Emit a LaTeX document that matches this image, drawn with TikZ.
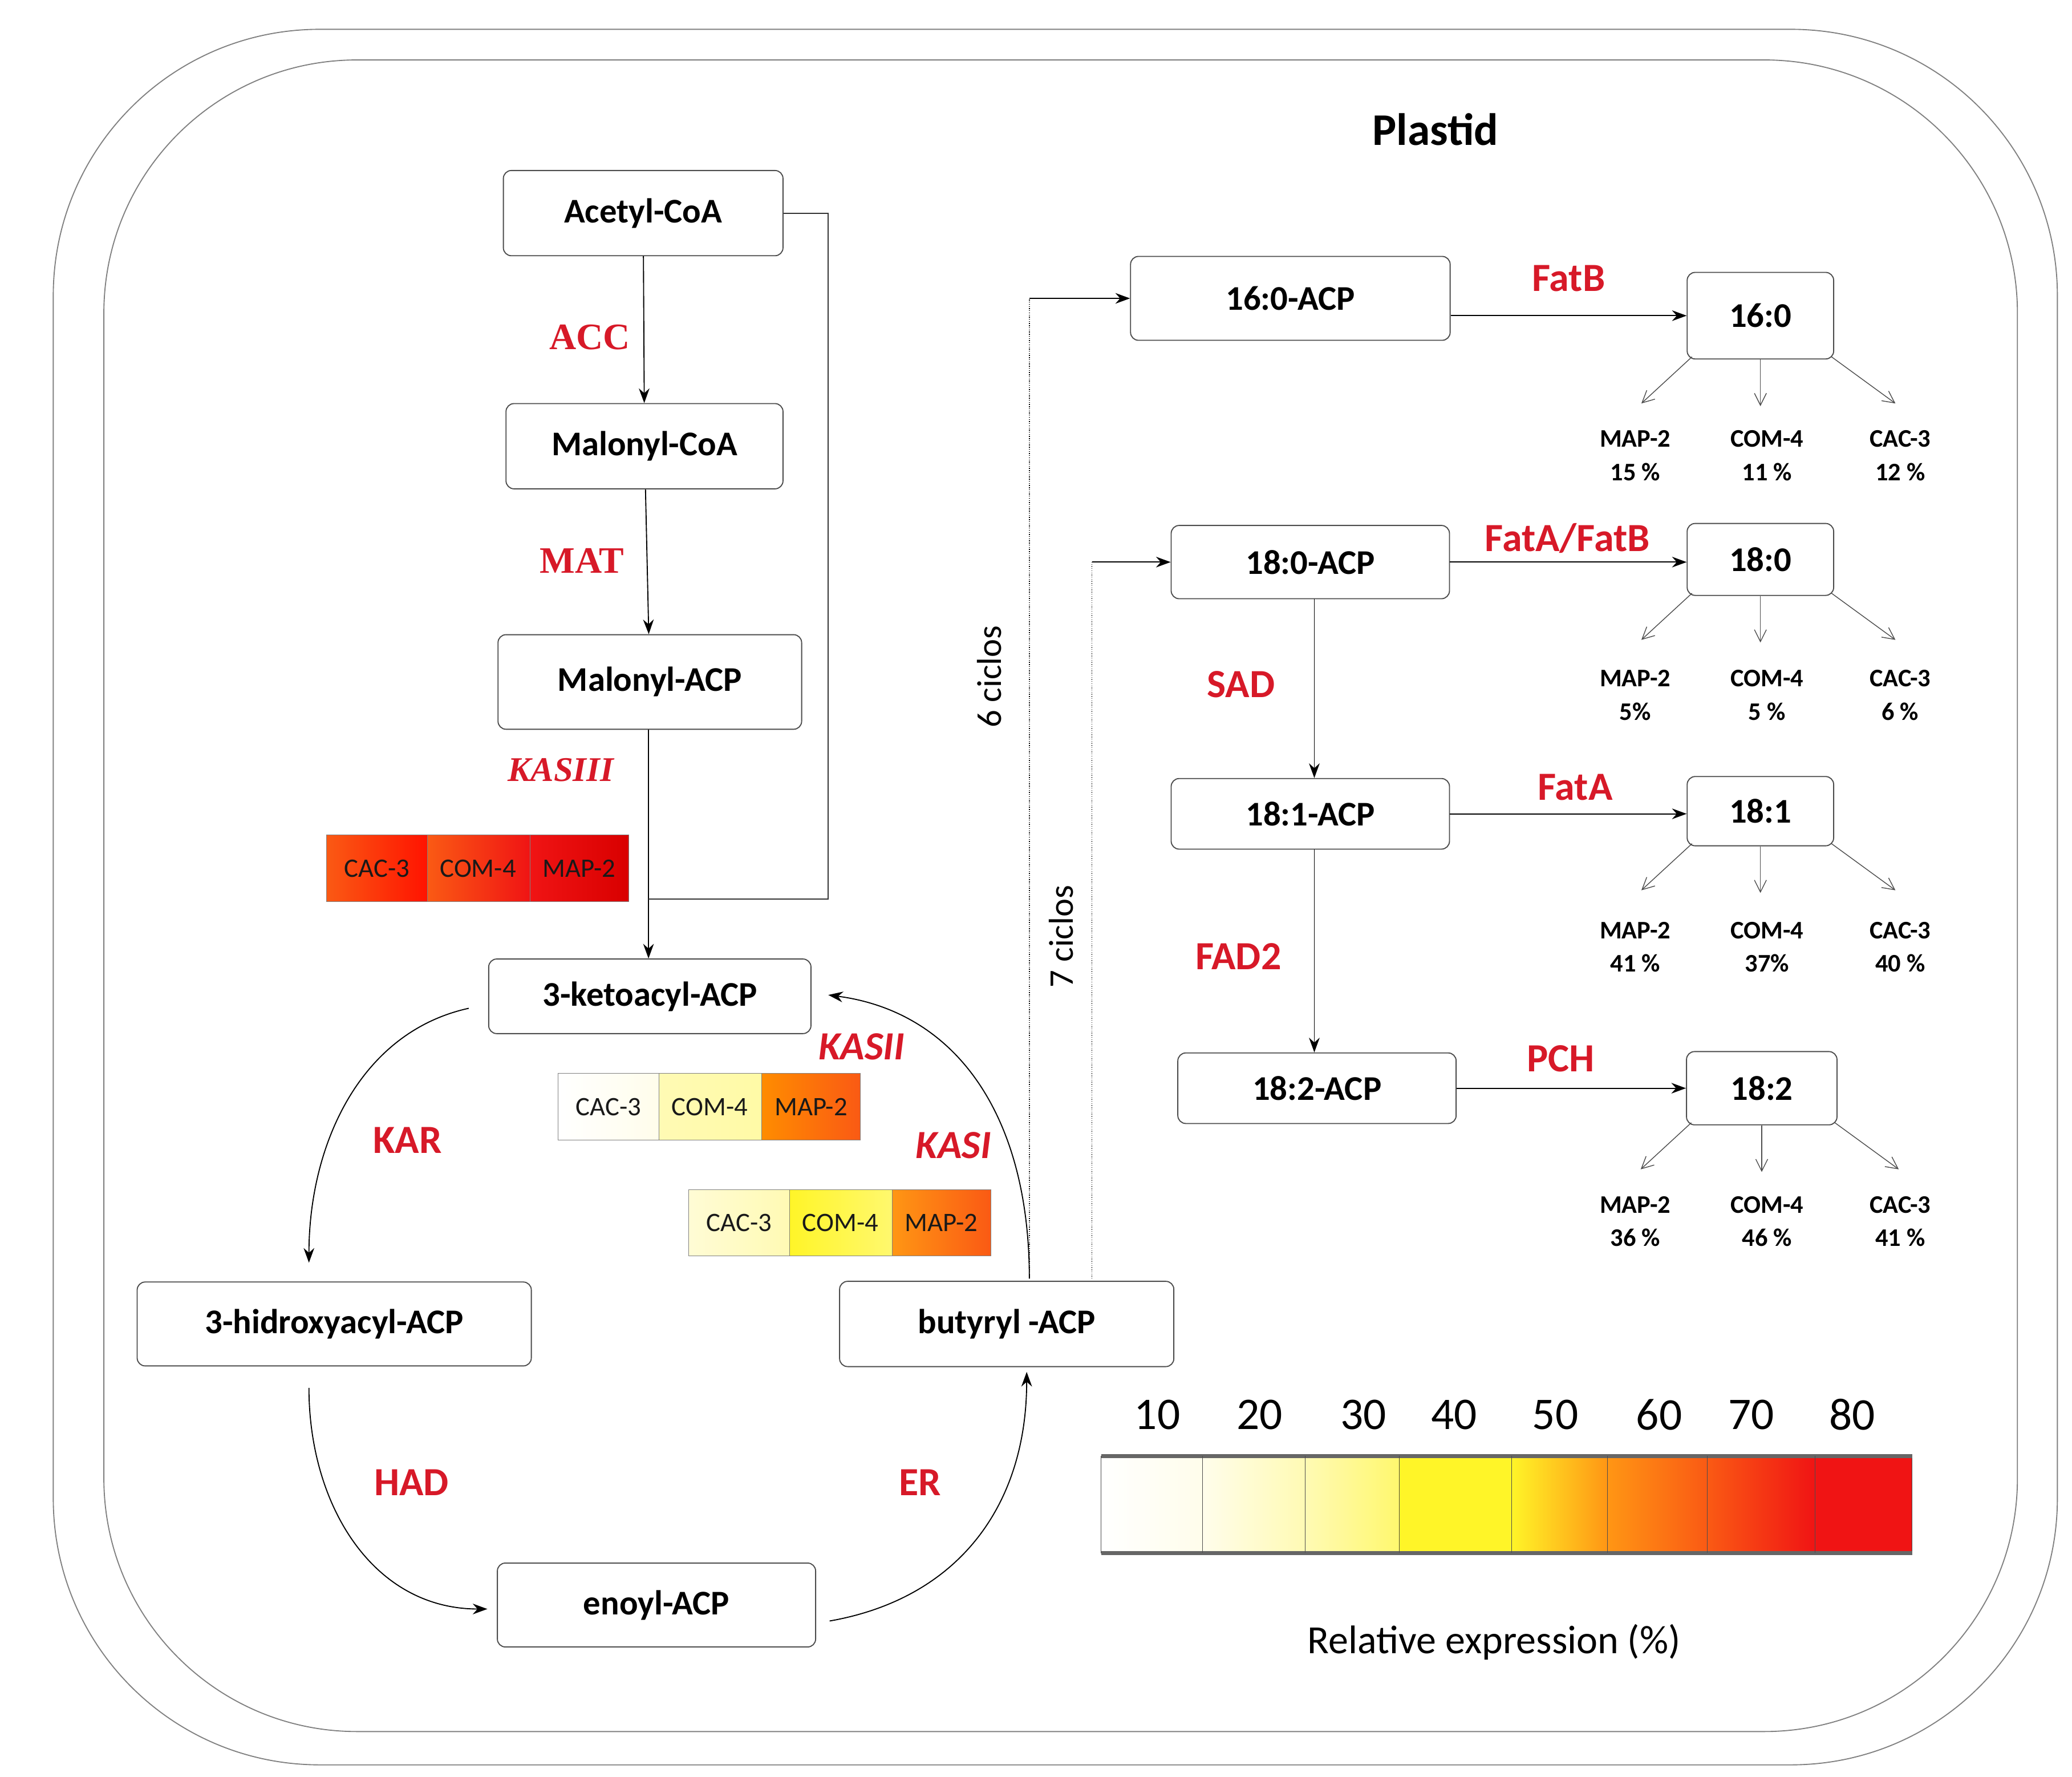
\documentclass[tikz,border=0pt]{standalone}
\usepackage{fontspec}
\setmainfont{Carlito}
\newfontfamily\serifred{Liberation Serif}
\usetikzlibrary{arrows.meta}
\definecolor{lbl}{RGB}{215,25,40}
\definecolor{cA}{RGB}{255,253,235}
\definecolor{cB}{RGB}{255,250,180}
\definecolor{cC}{RGB}{255,248,110}
\definecolor{cD}{RGB}{255,245,40}
\definecolor{cE}{RGB}{255,150,20}
\definecolor{cF}{RGB}{250,90,20}
\definecolor{cG}{RGB}{240,20,20}
\tikzset{
 box/.style={draw=black!70,rounded corners=6pt,thick,fill=white,font=\fontsize{26}{30}\selectfont\bfseries,inner sep=0pt},
 prod/.style={box,minimum width=110pt,minimum height=58pt},
 arr/.style={-{Stealth[length=11pt,width=8pt]},thick},
 thin/.style={-{Straight Barb[length=9pt,width=9pt]},semithick,black!70},
 enz/.style={text=lbl,font=\fontsize{30}{34}\selectfont\bfseries},
 enzs/.style={text=lbl,font=\fontsize{28}{32}\selectfont\serifred\bfseries},
 pct/.style={font=\fontsize{19}{23}\selectfont\bfseries,align=center,text=black},
 cell/.style={font=\fontsize{20}{24}\selectfont,text=black!90},
 dots/.style={densely dotted,semithick},
}
\begin{document}
\begin{tikzpicture}[x=1pt,y=-1pt]
\useasboundingbox (0,0) rectangle (1556,1334);
\draw[black!50,thick,rounded corners=200pt] (40,22) rectangle (1545,1325);
\draw[black!50,thick,rounded corners=190pt] (78,45) rectangle (1515,1300);
\node[font=\fontsize{34}{40}\selectfont\bfseries] (title) at (1078,97) {Plastid};
% boxes
\node[box,minimum width=210pt,minimum height=64pt] (acoa) at (483,160) {Acetyl-CoA};
\node[box,minimum width=208pt,minimum height=64pt] (mcoa) at (484,335) {Malonyl-CoA};
\node[box,minimum width=228pt,minimum height=71pt] (macp) at (488,512) {Malonyl-ACP};
\node[box,minimum width=242pt,minimum height=56pt] (keto) at (488,748) {3-ketoacyl-ACP};
\node[box,minimum width=296pt,minimum height=63pt] (hidr) at (251,994) {3-hidroxyacyl-ACP};
\node[box,minimum width=239pt,minimum height=63pt] (enoy) at (493,1205) {enoyl-ACP};
\node[box,minimum width=251pt,minimum height=64pt] (buty) at (756,994) {butyryl -ACP};
\node[box,minimum width=240pt,minimum height=63pt] (a160) at (969,224) {16:0-ACP};
\node[box,minimum width=209pt,minimum height=55pt] (a180) at (984,422) {18:0-ACP};
\node[box,minimum width=209pt,minimum height=53pt] (a181) at (984,611) {18:1-ACP};
\node[box,minimum width=209pt,minimum height=53pt] (a182) at (989,817) {18:2-ACP};
\node[prod,minimum height=65pt] (p160) at (1322,237) {16:0};
\node[prod,minimum height=54pt] (p180) at (1322,420) {18:0};
\node[prod,minimum height=52pt] (p181) at (1322,609) {18:1};
\node[prod,minimum width=113pt,minimum height=55pt] (p182) at (1323,817) {18:2};
% upper chain
\draw[arr] (acoa) -- (mcoa);
\node[enzs] (acc) at (443,253) {ACC};
\draw[arr] (mcoa) -- (macp);
\node[enzs] (mat) at (437,421) {MAT};
\draw[arr] (macp.south) ++(-1,0) coordinate (ms) -- (ms |- keto.north);
\node[enzs,font=\fontsize{26}{30}\selectfont\serifred\bfseries\itshape] (kas3) at (421,578) {KASIII};
\coordinate (j1) at (622,675);
\draw[thick,black!80] (acoa.east) -- (622,160) -- (j1) -- (487,675);
% heat bars
\newcommand{\heatbar}[8]{%
 \shade[left color=#3,right color=#4] (#1,#2) rectangle ++(76,50);
 \shade[left color=#5,right color=#6] (#1+76,#2) rectangle ++(77,50);
 \shade[left color=#7,right color=#8] (#1+153,#2) rectangle ++(74,50);
 \draw[black!50] (#1,#2) rectangle ++(227,50) (#1+76,#2) -- ++(0,50) (#1+153,#2) -- ++(0,50);
 \node[cell] at (#1+38,#2+25) {CAC-3};
 \node[cell] at (#1+114,#2+25) {COM-4};
 \node[cell] at (#1+190,#2+25) {MAP-2};}
\heatbar{245}{627}{cF}{red!85!orange}{cF}{cG}{cG}{red!85!black}
\heatbar{419}{806}{white}{cA}{cB}{cB!80!cC}{orange!90!yellow}{cF}
\heatbar{517}{893}{cA!60!cB}{cB}{cD}{cC}{cE}{cF}
% cycle
\draw[arr] (352,757) .. controls (270,775) and (232,860) .. (232,948);
\node[enz] (kar) at (306,856) {KAR};
\draw[arr] (232,1042) .. controls (232,1130) and (280,1208) .. (366,1208);
\node[enz] (had) at (309,1113) {HAD};
\draw[arr] (623,1217) .. controls (720,1200) and (771,1130) .. (771,1030);
\node[enz] (er) at (691,1113) {ER};
\draw[arr] (773,960) .. controls (773,840) and (720,760) .. (622,747);
\node[enz,font=\fontsize{30}{34}\selectfont\bfseries\itshape] (kas2) at (647,786) {KASII};
\node[enz,font=\fontsize{30}{34}\selectfont\bfseries\itshape] (kas1) at (716,860) {KASI};
% cycles
\coordinate (d6) at (773,960);
\draw[dots] (d6) -- (d6 |- a160);
\draw[arr] (d6 |- a160) -- (a160.west);
\node[rotate=90,font=\fontsize{26}{30}\selectfont] (c6) at (743,508) {6 ciclos};
\coordinate (d7) at (820,960);
\draw[dots] (d7) -- (d7 |- a180);
\draw[arr] (d7 |- a180) -- (a180.west);
\node[rotate=90,font=\fontsize{26}{30}\selectfont] (c7) at (797,703) {7 ciclos};
% right side
\draw[arr] (a160.east |- p160) -- (p160.west);
\node[enz] (fatb) at (1178,209) {FatB};
\draw[arr] (a180) -- (p180.west |- a180);
\node[enz] (fatab) at (1177,404) {FatA/FatB};
\draw[arr] (a181) -- (p181.west |- a181);
\node[enz] (fata) at (1183,591) {FatA};
\draw[arr] (a182) -- (p182.west |- a182);
\node[enz] (pch) at (1172,795) {PCH};
\draw[arr] (a180.south) ++(3,0) coordinate (s1) -- (s1 |- a181.north);
\node[enz] (sad) at (932,514) {SAD};
\draw[arr] (a181.south) ++(3,0) coordinate (s2) -- (s2 |- a182.north);
\node[enz] (fad) at (930,718) {FAD2};
% percentages
\newcommand{\pcts}[5]{%
 \draw[thin] (#1.south west) ++(4,-2) -- ++(-38,35);
 \draw[thin] (#1.south) -- ++(0,35);
 \draw[thin] (#1.south east) ++(-2,-2) -- ++(48,35);
 \node[pct] at (1228,#2) {MAP-2\\[2pt]#3};
 \node[pct] at (1327,#2) {COM-4\\[2pt]#4};
 \node[pct] at (1427,#2) {CAC-3\\[2pt]#5};}
\pcts{p160}{342}{15 \%}{11 \%}{12 \%}
\pcts{p180}{522}{5\%}{5 \%}{6 \%}
\pcts{p181}{711}{41 \%}{37\%}{40 \%}
\pcts{p182}{917}{36 \%}{46 \%}{41 \%}
% legend
\shade[left color=white,right color=cA] (827,1093) rectangle (903,1166);
\shade[left color=cA,right color=cB] (903,1093) rectangle (980,1166);
\shade[left color=cB,right color=cC] (980,1093) rectangle (1051,1166);
\shade[left color=cD,right color=cD] (1051,1093) rectangle (1135,1166);
\shade[left color=cD,right color=cE] (1135,1093) rectangle (1207,1166);
\shade[left color=cE,right color=cF] (1207,1093) rectangle (1282,1166);
\shade[left color=cF,right color=cG] (1282,1093) rectangle (1363,1166);
\fill[cG] (1363,1093) rectangle (1436,1166);
\draw[black!70] (827,1093) rectangle (1436,1166);
\draw[black!60,line width=3pt] (827,1093) -- (1436,1093) (827,1166) -- (1436,1166);
\foreach \x in {903,980,1051,1135,1207,1282,1363} \draw[black!70] (\x,1093) -- (\x,1166);
\foreach \x/\t in {869/10,946/20,1024/30,1092/40,1168/50,1246/60,1315/70,1391/80}
  \node[font=\fontsize{34}{40}\selectfont] at (\x,1062) {\t};
\node[font=\fontsize{30}{36}\selectfont] (rel) at (1122,1233) {Relative expression (\%)};
\end{tikzpicture}
\end{document}
